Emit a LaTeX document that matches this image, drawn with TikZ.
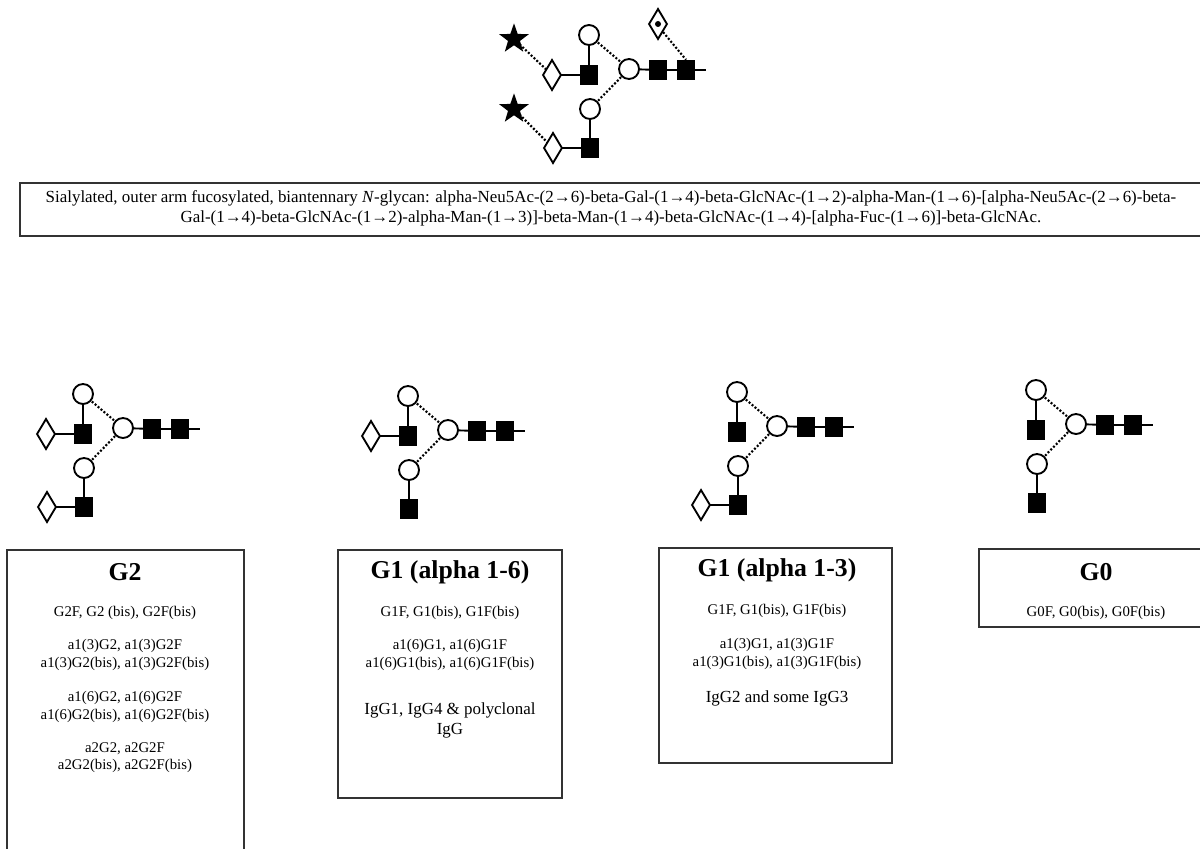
\documentclass[tikz,border=0pt]{standalone}
\usepackage{fontspec}
\setmainfont{Liberation Serif}
\usetikzlibrary{shapes.geometric}
\pgfdeclarelayer{links}
\pgfsetlayers{links,main}
\definecolor{boxline}{HTML}{333333}
\tikzset{
  x=0.75pt,y=-0.75pt,
  lnk/.style={line width=1.4pt,black},
  dot link/.style={line width=1.6pt,black,dash pattern=on 1.5pt off 1.4pt},
  man/.style={circle,draw=black,fill=white,line width=1.4pt,minimum size=15pt,inner sep=0pt},
  nac/.style={rectangle,fill=black,minimum width=14pt,minimum height=15pt,inner sep=0pt},
  gal/.style={diamond,draw=black,fill=white,line width=1.4pt,minimum width=14pt,minimum height=23pt,inner sep=0pt},
  sia/.style={star,star points=5,star point ratio=2.5,fill=black,minimum size=23.5pt,inner sep=0pt},
  fucdot/.style={circle,fill=black,minimum size=4.5pt,inner sep=0pt},
  panel/.style={draw=boxline,line width=1.3pt},
  ttl/.style={font=\fontsize{19.3}{22}\selectfont\bfseries,inner sep=0pt,anchor=center},
  sm/.style={font=\fontsize{11.1}{13.5}\selectfont,inner sep=0pt,anchor=center,yshift=-1pt},
  big/.style={font=\fontsize{12.7}{15}\selectfont,inner sep=0pt,anchor=center,yshift=-1pt},
  desc/.style={font=\fontsize{12.7}{15}\selectfont,inner sep=0pt,anchor=center,align=center},
}
% prefix, core x, core y
\newcommand{\lnkto}[3]{\begin{pgfonlayer}{links}\draw[#1] (#2.center) -- (#3.center);\end{pgfonlayer}}
\newcommand{\glycore}[3]{%
  \begin{scope}[shift={(#2,#3)}]
    \node[man] (#1C) at (0,0) {};
    \node[man] (#1U) at (-40,-34) {};
    \node[nac] (#1US) at (-40,6) {};
    \node[man] (#1L) at (-39,40) {};
    \node[nac] (#1LS) at (-39,79) {};
    \node[nac] (#1A) at (29,1) {};
    \node[nac] (#1B) at (57,1) {};
    \coordinate (#1E) at (77,1);
    \lnkto{lnk}{#1U}{#1US}
    \lnkto{lnk}{#1L}{#1LS}
    \lnkto{lnk}{#1C}{#1A}
    \lnkto{lnk}{#1A}{#1B}
    \lnkto{lnk}{#1B}{#1E}
    \lnkto{dot link}{#1U}{#1C}
    \lnkto{dot link}{#1L}{#1C}
  \end{scope}}
\newcommand{\uppergal}[3]{%
  \begin{scope}[shift={(#2,#3)}]
    \node[gal] (#1UD) at (-77,6) {};
    \lnkto{lnk}{#1UD}{#1US}
  \end{scope}}
\newcommand{\lowergal}[3]{%
  \begin{scope}[shift={(#2,#3)}]
    \node[gal] (#1LD) at (-76,79) {};
    \lnkto{lnk}{#1LD}{#1LS}
  \end{scope}}
\begin{document}
\begin{tikzpicture}
\begin{pgfonlayer}{links}
\fill[white] (0,0) rectangle (1200,849);
\end{pgfonlayer}
\useasboundingbox (0,0) rectangle (1200,849);
\clip (0,0) rectangle (1200,849);

% top glycan
\glycore{t}{629}{69}
\uppergal{t}{629}{69}
\lowergal{t}{629}{69}
\node[sia] (ts1) at (514,39) {};
\node[sia] (ts2) at (514,109) {};
\lnkto{dot link}{ts1}{tUD}
\lnkto{dot link}{ts2}{tLD}
\node[gal] (tF) at (658,24) {};
\node[fucdot] (tFd) at (658,24) {};
\begin{pgfonlayer}{links}
\draw[dot link] (tF.south east) -- (tB.north);
\end{pgfonlayer}

% description
\node[panel,minimum width=1190*0.75pt,minimum height=53*0.75pt,anchor=north west,inner sep=0pt] (descbox) at (19,182) {};
\node[desc] (desctext) at (611,208) {Sialylated, outer arm fucosylated, biantennary \textit{N}-glycan: alpha-Neu5Ac-(2→6)-beta-Gal-(1→4)-beta-GlcNAc-(1→2)-alpha-Man-(1→6)-[alpha-Neu5Ac-(2→6)-beta-\\Gal-(1→4)-beta-GlcNAc-(1→2)-alpha-Man-(1→3)]-beta-Man-(1→4)-beta-GlcNAc-(1→4)-[alpha-Fuc-(1→6)]-beta-GlcNAc.};

% G2
\glycore{a}{123}{428}
\uppergal{a}{123}{428}
\lowergal{a}{123}{428}
\draw[panel] (7,550) rectangle (244,860);
\node[ttl] (g2t) at (125,572) {G2};
\node[sm] (g2a) at (125,612) {G2F, G2 (bis), G2F(bis)};
\node[sm] (g2b) at (125,645) {a1(3)G2, a1(3)G2F};
\node[sm] (g2c) at (125,663) {a1(3)G2(bis), a1(3)G2F(bis)};
\node[sm] (g2d) at (125,697) {a1(6)G2, a1(6)G2F};
\node[sm] (g2e) at (125,715) {a1(6)G2(bis), a1(6)G2F(bis)};
\node[sm] (g2f) at (125,747) {a2G2, a2G2F};
\node[sm] (g2g) at (125,765) {a2G2(bis), a2G2F(bis)};

% G1 alpha 1-6
\glycore{b}{448}{430}
\uppergal{b}{448}{430}
\draw[panel] (338,550) rectangle (562,798);
\node[ttl] (g6t) at (450,572) {G1 (alpha 1-6)};
\node[sm] (g6a) at (450,612) {G1F, G1(bis), G1F(bis)};
\node[sm] (g6b) at (450,645) {a1(6)G1, a1(6)G1F};
\node[sm] (g6c) at (450,663) {a1(6)G1(bis), a1(6)G1F(bis)};
\node[big] (g6d) at (450,709) {IgG1, IgG4 \& polyclonal};
\node[big] (g6e) at (450,729) {IgG};

% G1 alpha 1-3
\glycore{c}{777}{426}
\lowergal{c}{777}{426}
\draw[panel] (659,548) rectangle (892,763);
\node[ttl] (g3t) at (777,570) {G1 (alpha 1-3)};
\node[sm] (g3a) at (777,610) {G1F, G1(bis), G1F(bis)};
\node[sm] (g3b) at (777,644) {a1(3)G1, a1(3)G1F};
\node[sm] (g3c) at (777,662) {a1(3)G1(bis), a1(3)G1F(bis)};
\node[big] (g3d) at (777,697) {IgG2 and some IgG3};

% G0
\glycore{d}{1076}{424}
\draw[panel] (979,549) rectangle (1210,627);
\node[ttl] (g0t) at (1096,572) {G0};
\node[sm] (g0a) at (1096,612) {G0F, G0(bis), G0F(bis)};
\end{tikzpicture}
\end{document}
